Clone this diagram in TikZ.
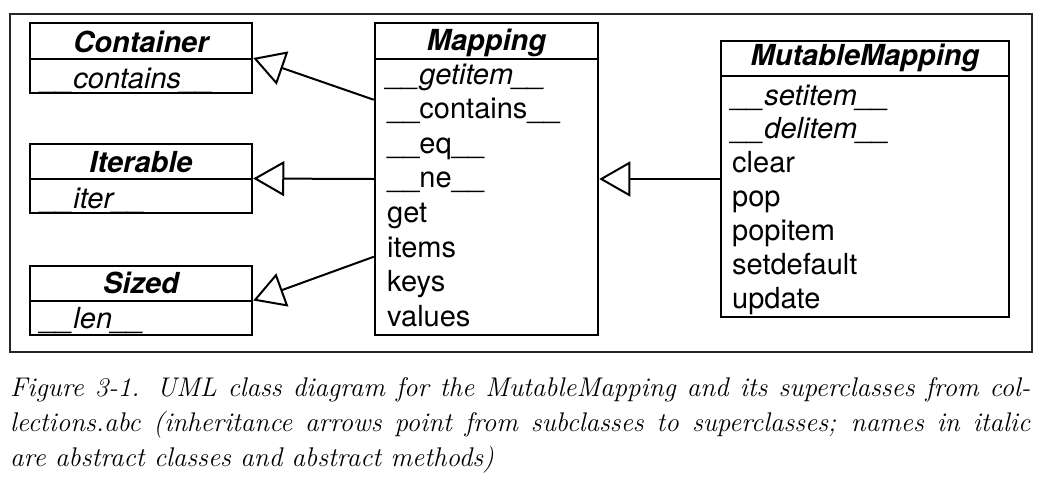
\documentclass[tikz,border=0pt]{standalone}
\usepackage{fontspec}
\newfontfamily\helv{TeX Gyre Heros}
\usetikzlibrary{arrows.meta,calc}
\begin{document}
\begin{tikzpicture}[x=1pt,y=-1pt,
  classbox/.style={draw=black,line width=2.5pt,rectangle,inner sep=0pt,fill=white},
  divider/.style={line width=2.5pt},
  title/.style={anchor=base,inner sep=0pt,font=\helv\fontsize{29}{34}\selectfont\bfseries\itshape},
  meth/.style={anchor=base west,inner sep=0pt,font=\helv\fontsize{29}{34}\selectfont},
  ameth/.style={meth,font=\helv\fontsize{29}{34}\selectfont\itshape},
  inherit/.style={line width=2pt,-{Triangle[open,length=31pt,width=35pt,line width=2pt]}},
  frame/.style={draw=black!85,line width=1.2pt}
]
\useasboundingbox (0,0) rectangle (1040,483);
\draw[frame] (10,14) rectangle (1032,352);

% Container
\node[classbox,minimum width=222pt,minimum height=70pt] (container) at (141,58) {};
\draw[divider] (container.west|-0,59) -- (container.east|-0,59);
\node[title] (containerT) at (141,52) {Container};
\node[ameth] (containerM) at (41,88) {\_\_contains\_\_};

% Iterable
\node[classbox,minimum width=222pt,minimum height=69pt] (iterable) at (141,178.5) {};
\draw[divider] (iterable.west|-0,179) -- (iterable.east|-0,179);
\node[title] (iterableT) at (141,172) {Iterable};
\node[ameth] (iterableM) at (41,208) {\_\_iter\_\_};

% Sized
\node[classbox,minimum width=222pt,minimum height=69pt] (sized) at (141,300.5) {};
\draw[divider] (sized.west|-0,301) -- (sized.east|-0,301);
\node[title] (sizedT) at (141,293) {Sized};
\node[ameth] (sizedM) at (41,328) {\_\_len\_\_};

% Mapping
\node[classbox,minimum width=223pt,minimum height=312pt] (mapping) at (486.5,179) {};
\draw[divider] (mapping.west|-0,59) -- (mapping.east|-0,59);
\node[title] (mappingT) at (486.5,50) {Mapping};
\node[ameth] (mp1) at (387,84) {\_\_getitem\_\_};
\node[meth] (mp2) at (387,118.6) {\_\_contains\_\_};
\node[meth] (mp3) at (387,153.2) {\_\_eq\_\_};
\node[meth] (mp4) at (387,187.8) {\_\_ne\_\_};
\node[meth] (mp5) at (387,222.4) {get};
\node[meth] (mp6) at (387,257) {items};
\node[meth] (mp7) at (387,291.6) {keys};
\node[meth] (mp8) at (387,326.2) {values};

% MutableMapping
\node[classbox,minimum width=288pt,minimum height=276pt] (mutable) at (865,179) {};
\draw[divider] (mutable.west|-0,76) -- (mutable.east|-0,76);
\node[title] (mutableT) at (865,65) {MutableMapping};
\node[ameth] (mm1) at (732,105) {\_\_setitem\_\_};
\node[ameth] (mm2) at (732,138.9) {\_\_delitem\_\_};
\node[meth] (mm3) at (732,172.8) {clear};
\node[meth] (mm4) at (732,206.7) {pop};
\node[meth] (mm5) at (732,240.6) {popitem};
\node[meth] (mm6) at (732,274.5) {setdefault};
\node[meth] (mm7) at (732,308.4) {update};

% connectors
\coordinate (mc) at ($(mapping.north west)+(0,78)$);
\coordinate (ms) at ($(mapping.north west)+(0,235)$);
\draw[inherit] (mc) -- (container.east);
\draw[inherit] (mapping.west) -- (iterable.east);
\draw[inherit] (ms) -- (sized.east);
\draw[inherit] (mutable.west) -- (mapping.east);

% caption
\node[anchor=base west,inner sep=0pt,text width=1020pt,align=left,
      font=\fontsize{27}{35}\selectfont\itshape\addfontfeatures{LetterSpace=2}] (caption) at (10,396.7)
{\spaceskip=0pt\xspaceskip=0pt
\makebox[1020pt][s]{Figure 3-1. UML class diagram for the MutableMapping and its superclasses from col-}\\
\makebox[1020pt][s]{lections.abc (inheritance arrows point from subclasses to superclasses; names in italic}\\
are abstract classes and abstract methods)};
\end{tikzpicture}
\end{document}
